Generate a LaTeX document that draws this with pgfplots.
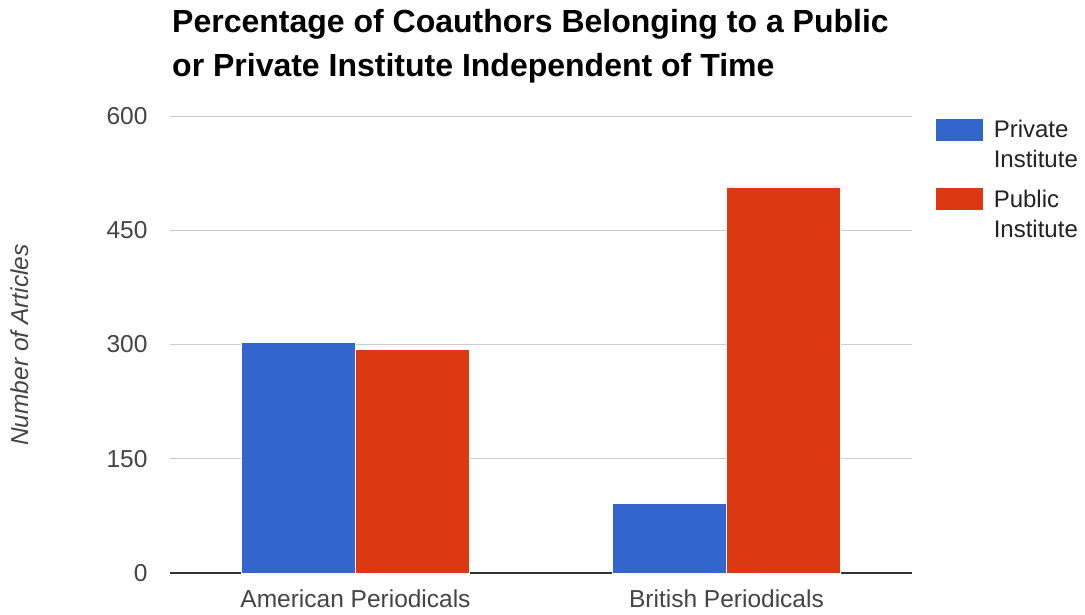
\documentclass[border=0pt]{standalone}
\usepackage{pgfplots}
\pgfplotsset{compat=1.18}
\usepackage{fontspec}
\setmainfont{Liberation Sans}
\definecolor{cblue}{HTML}{3366CC}
\definecolor{cred}{HTML}{DC3912}
\definecolor{ticktext}{HTML}{444444}
\definecolor{legtext}{HTML}{222222}
\definecolor{gridc}{HTML}{CCCCCC}
\begin{document}
\begin{tikzpicture}[x=1pt,y=1pt]
\path[use as bounding box] (-170,-41) rectangle (915,573);
\begin{axis}[
  at={(0,0)}, anchor=south west,
  scale only axis, width=742pt, height=457pt,
  xmin=-0.5, xmax=1.5, ymin=0, ymax=600,
  xtick={0,1}, xticklabels={American Periodicals, British Periodicals},
  ytick={0,150,300,450,600},
  /pgf/number format/assume math mode=true,
  major tick length=0pt,
  ymajorgrids, grid style={draw=gridc, line width=1pt},
  separate axis lines,
  axis x line*=bottom, axis y line*=left,
  y axis line style={draw=none},
  x axis line style={draw=black!80, line width=1.3pt},
  tick label style={font=\fontsize{24.5}{28}\selectfont, text=ticktext},
  xticklabel style={yshift=-13pt},
  yticklabel style={xshift=-19pt},
  ybar, bar width=114pt,
  legend style={at={(1,1)}, anchor=north west, xshift=20pt, draw=none, fill=none,
    font=\fontsize{24}{30}\selectfont, text=legtext,
    cells={anchor=west, align=left}, row sep=16pt},
  legend image code/.code={\fill[#1] (0pt,3.5pt) rectangle (48pt,26.5pt); \path (0pt,0pt) -- (56pt,0pt);},
]
\addplot[fill=cblue, draw=white, line width=0.6pt, bar shift=-57pt] coordinates {(0,303) (1,91)};
\addplot[fill=cred, draw=white, line width=0.6pt, bar shift=57pt] coordinates {(0,294) (1,507)};
\legend{{Private\\Institute},{Public\\Institute}}
\end{axis}
\node[anchor=base west, inner sep=0pt, font=\bfseries\fontsize{32}{44}\selectfont] at (2,540) {Percentage of Coauthors Belonging to a Public};
\node[anchor=base west, inner sep=0pt, font=\bfseries\fontsize{32}{44}\selectfont] at (2,496) {or Private Institute Independent of Time};
\node[rotate=90, font=\itshape\fontsize{24.5}{28}\selectfont, text=ticktext] at (-150,228) {Number of Articles};
\end{tikzpicture}
\end{document}
